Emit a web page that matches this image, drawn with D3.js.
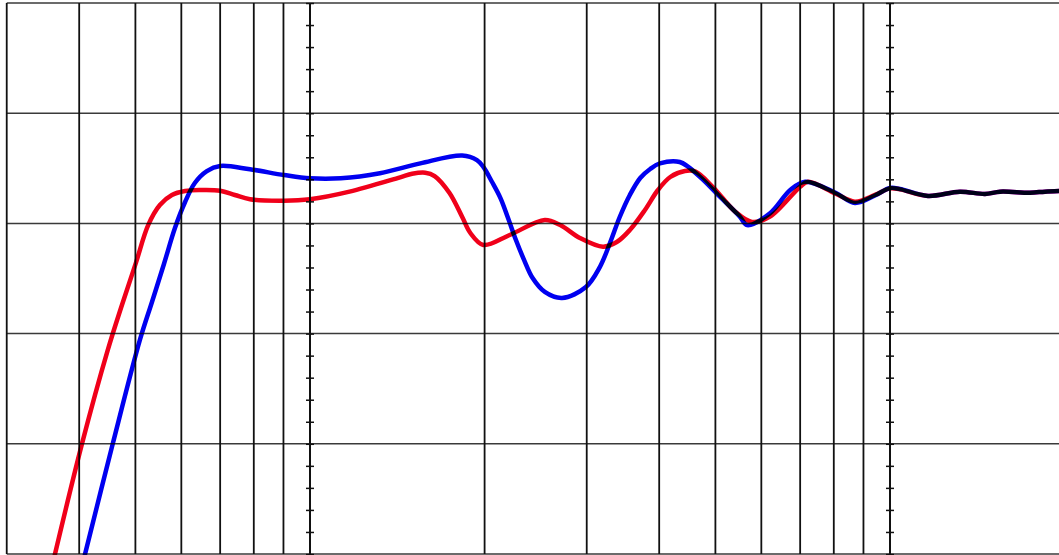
<!DOCTYPE html>
<html>
<head>
<meta charset="utf-8">
<script src="https://cdn.jsdelivr.net/npm/d3@7"></script>
<style>
  html, body { margin: 0; padding: 0; background: #fff; }
  svg { display: block; }
  .curve { fill: none; stroke-width: 4.5; stroke-linejoin: round; stroke-linecap: round; mix-blend-mode: multiply; }
</style>
</head>
<body>
<div id="chart"></div>
<script>
// Frequency gridlines (Hz) and level gridlines (dB)
const freqGrid = [30, 40, 50, 60, 70, 80, 90, 100, 200, 300, 400, 500, 600, 700, 800, 900, 1000];
const decades = [100, 1000];
const dbGrid = [20, 10, 0, -10, -20, -30];
const dbMinor = d3.range(-30, 21, 2);

// Red response: [Hz, dB]
const redCurve = [
  [36.3, -30.1], [40.4, -20.1], [44.8, -11.5], [47.4, -7.4], [50.1, -3.58], [52.6, -0.15],
  [55.1, 1.67], [57.8, 2.58], [60.9, 2.94], [64.6, 3.03], [70.0, 2.97], [74.2, 2.58],
  [78.8, 2.19], [90.2, 2.06], [100, 2.19], [117, 2.88], [143, 4.18], [150, 4.5],
  [158, 4.6], [164, 4.3], [174, 2.76], [183, 0.58], [189, -0.87], [199, -1.96],
  [221, -1.05], [254, 0.31], [270, -0.15], [292, -1.32], [320, -2.11], [338, -1.69],
  [356, -0.6], [378, 1.22], [398, 3.03], [418, 4.21], [443, 4.75], [462, 4.7],
  [495, 3.3], [541, 1.06], [578, 0.13], [621, 0.61], [700, 3.33], [722, 3.78],
  [804, 2.73], [870, 1.97], [942, 2.58], [1000, 3.18], [1040, 3.09],
  [1163, 2.49], [1320, 2.88], [1458, 2.67], [1548, 2.88], [1743, 2.79], [1850, 2.88], [1981, 2.94]
];

// Blue response: [Hz, dB]
const blueCurve = [
  [40.9, -30.1], [45.7, -20.0], [50.9, -10.58], [53.4, -7.13], [56.0, -3.68], [58.5, -0.42],
  [60.9, 1.94], [63.3, 3.67], [66.4, 4.75], [70.0, 5.21], [78.8, 4.91], [90.2, 4.39],
  [100, 4.09], [113, 4.09], [132, 4.55], [155, 5.45], [183, 6.16], [194, 5.75],
  [199, 5.13], [206, 3.76], [213, 2.3], [219.5, 0.49], [226.5, -1.51], [234, -3.33],
  [242, -4.96], [254, -6.22], [272, -6.77], [299, -5.77], [316, -3.96], [329, -1.78],
  [342, 0.58], [356, 2.58], [371, 4.12], [386, 4.94], [401, 5.44], [434, 5.57],
  [470, 4.24], [509, 2.42], [551, 0.61], [567, -0.15], [621, 0.92], [673, 3.03],
  [714, 3.78], [804, 2.8], [870, 1.85], [942, 2.53], [1000, 3.21], [1040, 3.12],
  [1163, 2.49], [1320, 2.88], [1458, 2.67], [1548, 2.88], [1743, 2.79], [1850, 2.88], [1981, 2.94]
];

const width = 1059;
const height = 555;

const svg = d3.select("#chart")
  .append("svg")
  .attr("width", width)
  .attr("height", height);

const x = d3.scaleLog()
  .domain([100, 1000])
  .range([310, 890]);

const y = d3.scaleLinear()
  .domain([20, -30])
  .range([3, 554]);

const plotLeft = x(30);

// Horizontal gridlines
svg.append("g")
  .selectAll("line")
  .data(dbGrid)
  .join("line")
  .attr("x1", plotLeft)
  .attr("x2", width)
  .attr("y1", d => y(d))
  .attr("y2", d => y(d))
  .attr("stroke", "#3a3a3a")
  .attr("stroke-width", 1.5);

// Vertical gridlines
svg.append("g")
  .selectAll("line")
  .data(freqGrid)
  .join("line")
  .attr("x1", d => x(d))
  .attr("x2", d => x(d))
  .attr("y1", y(20))
  .attr("y2", y(-30))
  .attr("stroke", "#111")
  .attr("stroke-width", d => decades.includes(d) ? 2 : 1.8);

// Minor ticks on the decade lines
decades.forEach(f => {
  svg.append("g")
    .attr("transform", `translate(${x(f)},0)`)
    .call(d3.axisLeft(y).tickValues(dbMinor).tickSize(0).tickFormat(""))
    .call(g => g.select(".domain").remove())
    .selectAll(".tick")
    .append("line")
    .attr("x1", -4)
    .attr("x2", 4)
    .attr("stroke", "#111")
    .attr("stroke-width", 1.5);
});

const line = d3.line()
  .x(d => x(d[0]))
  .y(d => y(d[1]))
  .curve(d3.curveCatmullRom.alpha(0.5));

svg.append("path")
  .datum(redCurve)
  .attr("class", "curve")
  .attr("stroke", "#f0001a")
  .attr("d", line);

svg.append("path")
  .datum(blueCurve)
  .attr("class", "curve")
  .attr("stroke", "#0000f0")
  .attr("d", line);
</script>
</body>
</html>
